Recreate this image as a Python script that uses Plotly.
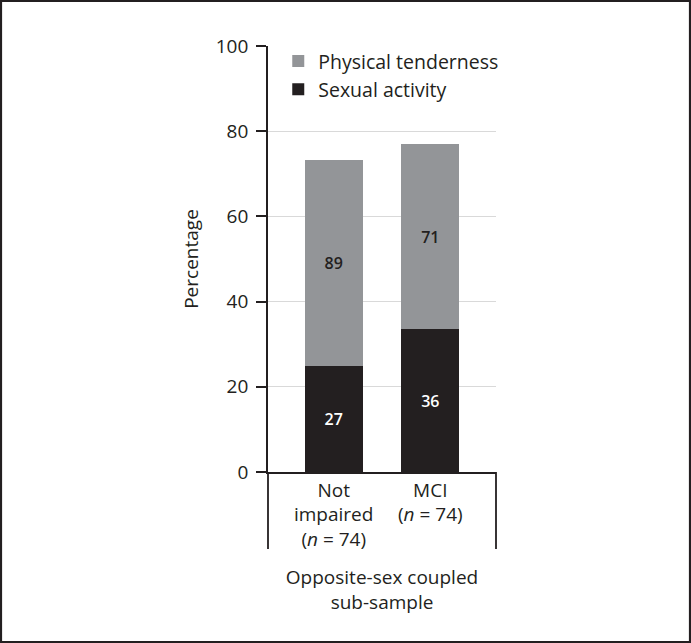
import plotly.graph_objects as go

# data
groups = ["Not<br>impaired<br>(<i>n</i> = 74)", "MCI<br>(<i>n</i> = 74)"]
sexual_activity = [24.8, 33.5]
physical_tenderness = [48.4, 43.5]  # stacked on top of sexual activity
sexual_labels = ["27", "36"]
tender_labels = ["89", "71"]

GRAY = "#939598"
BLACK = "#231f20"
FONT = "Open Sans, Noto Sans, sans-serif"

fig = go.Figure()

fig.add_trace(
    go.Bar(
        x=[0, 1],
        y=sexual_activity,
        name="Sexual activity",
        marker=dict(color=BLACK, line=dict(width=0)),
        width=0.6,
        text=sexual_labels,
        textposition="inside",
        insidetextanchor="middle",
        textfont=dict(color="white", size=16, family=FONT, weight=600),
        hoverinfo="skip",
    )
)
fig.add_trace(
    go.Bar(
        x=[0, 1],
        y=physical_tenderness,
        name="Physical tenderness",
        marker=dict(color=GRAY, line=dict(width=0)),
        width=0.6,
        text=tender_labels,
        textposition="inside",
        insidetextanchor="middle",
        textfont=dict(color=BLACK, size=16, family=FONT, weight=600),
        hoverinfo="skip",
    )
)

# plot area: x 268..496 px, y 46..472 px
L, R, T, B = 268, 195, 46, 171
W, H = 691, 643
pw, ph = W - L - R, H - T - B

shapes = [
    # outer frame
    dict(type="rect", xref="paper", yref="paper",
         x0=-(L - 1) / pw, x1=1 + (R - 1) / pw,
         y0=-(B - 1) / ph, y1=1 + (T - 1) / ph,
         line=dict(color=BLACK, width=2.2), layer="above"),
    # bracket below the axis
    dict(type="line", xref="paper", yref="paper",
         x0=0, x1=0, y0=0, y1=-77 / ph,
         line=dict(color=BLACK, width=1.8)),
    dict(type="line", xref="paper", yref="paper",
         x0=1, x1=1, y0=0, y1=-77 / ph,
         line=dict(color=BLACK, width=1.8)),
]

fig.update_layout(
    width=W,
    height=H,
    margin=dict(l=L, r=R, t=T, b=B, pad=0),
    barmode="stack",
    plot_bgcolor="white",
    paper_bgcolor="white",
    font=dict(family=FONT, size=19, color=BLACK),
    showlegend=True,
    legend=dict(
        x=0.045, y=1.01, xanchor="left", yanchor="top",
        traceorder="reversed",
        font=dict(size=19.5),
        bgcolor="rgba(0,0,0,0)",
        itemwidth=30,
        tracegroupgap=0,
    ),
    shapes=shapes,
    xaxis=dict(
        range=[-0.68, 1.68],
        tickmode="array",
        tickvals=[0, 1],
        ticktext=groups,
        showline=True,
        linecolor=BLACK,
        linewidth=1.8,
        ticks="",
        showgrid=False,
        zeroline=False,
        tickfont=dict(size=19),
        title=dict(text="Opposite-sex coupled<br>sub-sample", font=dict(size=19), standoff=20),
    ),
    yaxis=dict(
        range=[0, 100],
        tickvals=[0, 20, 40, 60, 80, 100],
        showline=True,
        linecolor=BLACK,
        linewidth=1.8,
        ticks="outside",
        ticklen=10,
        tickcolor=BLACK,
        tickwidth=1.5,
        ticklabelstandoff=4,
        showgrid=True,
        gridcolor="#d9d9d9",
        gridwidth=1,
        zeroline=False,
        tickfont=dict(size=19),
        title=dict(text="Percentage", font=dict(size=19), standoff=12),
    ),
)

fig.write_html(
    "out.html",
    config={"displayModeBar": False},
    post_script="document.body.style.margin='0px';",
)
